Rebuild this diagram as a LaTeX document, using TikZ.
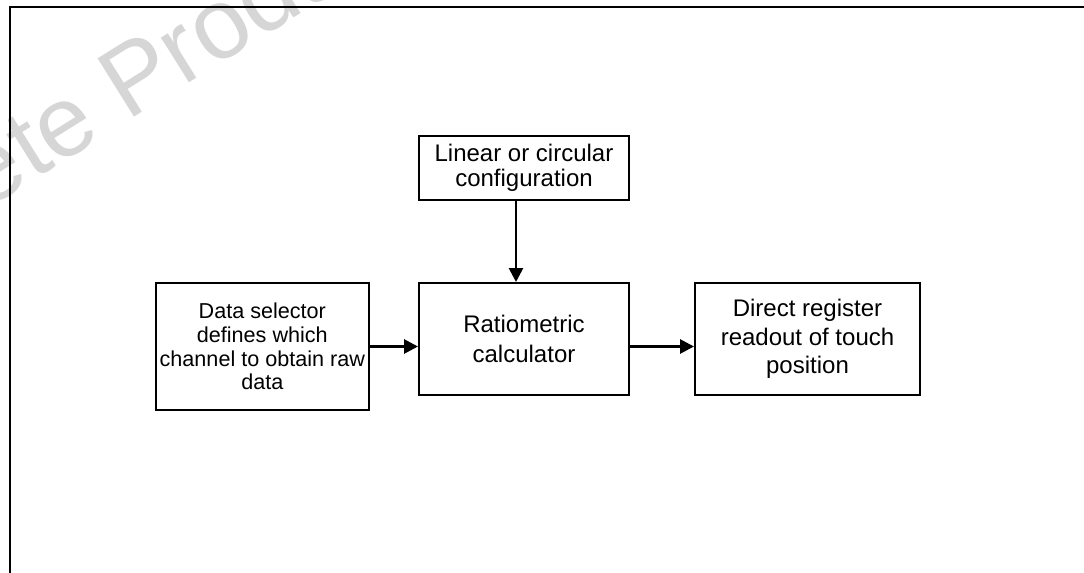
\documentclass[tikz,border=0pt]{standalone}
\usepackage{fontspec}
\setmainfont{Liberation Sans}
\usetikzlibrary{arrows.meta}
\usetikzlibrary{positioning}

\begin{document}
\begin{tikzpicture}[x=0.5pt, y=-0.5pt]
    \tikzset{
      >={Triangle[length=7pt,width=7pt]},
      block/.style={draw, line width=1pt, align=center, inner sep=2pt},
      link/.style={->, line width=1.4pt},
    }
    \useasboundingbox (0,0) rectangle (1084,573);
    \clip (0,0) rectangle (1084,573);
    % watermark, under the frame
    \node[text=black!16, rotate=32, anchor=base west,
      font=\fontsize{50}{54}\selectfont] (mark) at (-20,214) {ete Produ};
    % frame
    \draw[line width=1.2pt] (10,600) -- (10,7) -- (1100,7);

    \node[block, minimum width=105pt, minimum height=56pt,
      font=\fontsize{12}{15.2}\selectfont] (calc) at (524,339) {Ratiometric\\calculator};
    \node[block, above=40.5pt of calc, minimum width=105pt, minimum height=32pt,
      font=\fontsize{12}{12.4}\selectfont] (config) {Linear or circular\\configuration};
    \node[block, left=24pt of calc.north west, anchor=north east,
      minimum width=104.5pt, minimum height=63.5pt,
      font=\fontsize{10.8}{11.8}\selectfont] (select) {Data selector\\defines which\\channel to obtain raw\\data};
    \node[block, right=32pt of calc.north east, anchor=north west,
      minimum width=112.5pt, minimum height=56pt,
      font=\fontsize{12}{14.3}\selectfont] (readout) {Direct register\\readout of touch\\position};

    \draw[link] ([xshift=-4pt]config.south) -- ([xshift=-4pt]calc.north);
    \draw[link] (select.east) -- (select.east -| calc.west);
    \draw[link] (select.east -| calc.east) -- (select.east -| readout.west);
\end{tikzpicture}
\end{document}
